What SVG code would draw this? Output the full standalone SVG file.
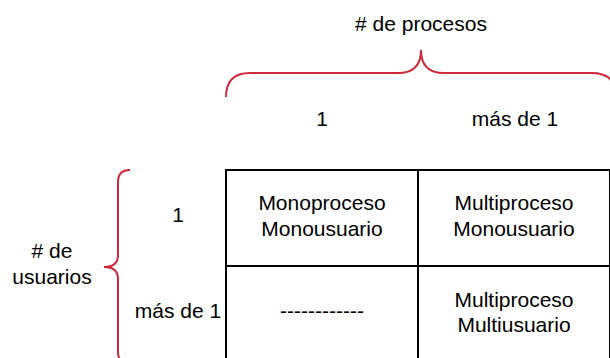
<svg xmlns="http://www.w3.org/2000/svg" width="610" height="358" viewBox="0 0 610 358">
<style>
text{font-family:"Liberation Sans",Arial,sans-serif;font-size:21px;fill:#000;text-anchor:middle}
.cell{fill:#fff;stroke:#000;stroke-width:2}
.brace{fill:none;stroke:#CC2B3B;stroke-width:2}
</style>
<rect width="610" height="358" fill="#fff"/>
<g id="braces">
<path class="brace" d="M226,97 Q226,73 250,73 L398,73 Q421,73 421,50 Q421,73 444,73 L592,73 Q616,73 616,97"/>
<path class="brace" d="M130,170 Q118,170 118,182 L118,255 Q118,267 104,267 Q118,267 118,279 L118,352 Q118,364 130,364"/>
</g>
<g id="title-procesos"><text x="421" y="31"># de procesos</text></g>
<g id="col-1"><text x="322" y="126">1</text></g>
<g id="col-mas"><text x="515" y="126">más de 1</text></g>
<g id="row-1"><text x="178" y="222">1</text></g>
<g id="row-mas"><text x="178" y="318">más de 1</text></g>
<g id="title-usuarios"><text x="52" y="258"># de</text><text x="52" y="284">usuarios</text></g>
<g id="cell-mono-mono"><rect class="cell" x="226" y="170" width="192" height="96"/><text x="322" y="210">Monoproceso</text><text x="322" y="235.5">Monousuario</text></g>
<g id="cell-multi-mono"><rect class="cell" x="418" y="170" width="192" height="96"/><text x="514" y="210">Multiproceso</text><text x="514" y="235.5">Monousuario</text></g>
<g id="cell-none"><rect class="cell" x="226" y="266" width="192" height="96"/><text x="322" y="318">------------</text></g>
<g id="cell-multi-multi"><rect class="cell" x="418" y="266" width="192" height="96"/><text x="514" y="306.5">Multiproceso</text><text x="514" y="332">Multiusuario</text></g>
</svg>
